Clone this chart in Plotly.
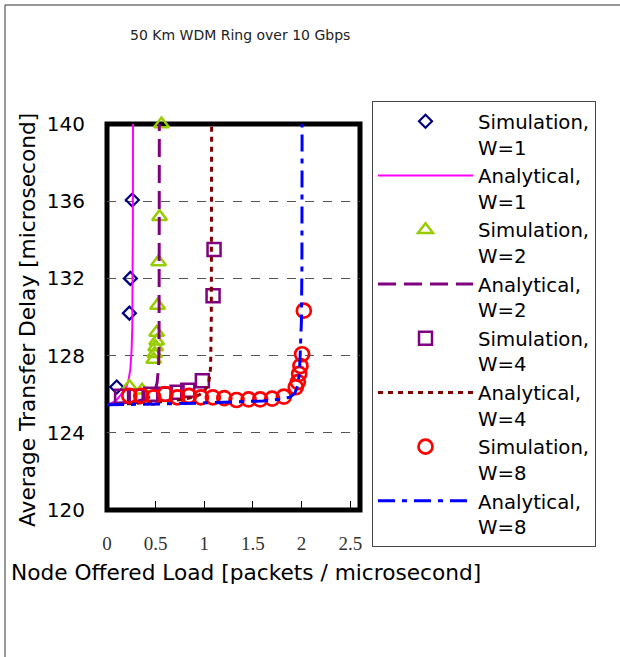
import plotly.graph_objects as go

# ---------------- data ----------------
sim_w1_x = [0.10, 0.23, 0.24, 0.26]
sim_w1_y = [126.37, 130.2, 132.0, 136.06]

ana_w1_x = [0.0, 0.05, 0.10, 0.13, 0.17, 0.20, 0.22, 0.24, 0.253, 0.260, 0.264, 0.266, 0.267]
ana_w1_y = [125.45, 125.55, 125.70, 125.87, 126.15, 126.40, 126.70, 127.30, 128.30, 129.50, 131.5, 135.0, 140.4]

sim_w2_x = [0.23, 0.36, 0.48, 0.49, 0.50, 0.51, 0.51, 0.52, 0.53, 0.54, 0.56]
sim_w2_y = [126.4, 126.2, 127.8, 128.1, 128.45, 128.75, 129.2, 130.6, 132.85, 135.2, 140.0]

ana_w2_x = [0.0, 0.1, 0.2, 0.3, 0.4, 0.45, 0.48, 0.50, 0.515, 0.528, 0.535, 0.537, 0.538]
ana_w2_y = [125.45, 125.50, 125.55, 125.62, 125.75, 125.90, 126.05, 126.30, 126.60, 127.30, 128.50, 132.0, 140.4]

sim_w4_x = [0.15, 0.30, 0.45, 0.60, 0.72, 0.83, 0.98, 1.09, 1.10]
sim_w4_y = [125.9, 125.9, 126.0, 126.0, 126.1, 126.2, 126.7, 131.1, 133.5]

ana_w4_x = [0.0, 0.2, 0.4, 0.6, 0.8, 0.9, 0.95, 1.00, 1.03, 1.05, 1.065, 1.072, 1.075]
ana_w4_y = [125.45, 125.50, 125.55, 125.62, 125.75, 125.87, 125.97, 126.15, 126.40, 126.75, 127.40, 130.0, 140.4]

sim_w8_x = [0.229, 0.352, 0.476, 0.599, 0.722, 0.842, 0.965, 1.088, 1.205, 1.331,
            1.455, 1.574, 1.697, 1.817, 1.940, 1.961, 1.975, 1.988, 2.005, 2.023]
sim_w8_y = [125.92, 125.92, 125.84, 126.01, 125.84, 125.91, 125.84, 125.84, 125.80, 125.70,
            125.73, 125.73, 125.77, 125.87, 126.36, 126.63, 127.05, 127.46, 128.07, 130.33]

ana_w8_x = [0.0, 0.4, 0.8, 1.2, 1.6, 1.8, 1.88, 1.93, 1.96, 1.978, 1.99, 1.998, 2.003, 2.005]
ana_w8_y = [125.45, 125.48, 125.52, 125.58, 125.65, 125.75, 125.85, 126.05, 126.45, 127.10, 128.30, 129.80, 132.5, 140.4]

x_ticks = [0, 0.5, 1, 1.5, 2, 2.5]
x_tick_text = ["0", "0.5", "1", "1.5", "2", "2.5"]
y_ticks = [120, 124, 128, 132, 136, 140]

title_text = "50 Km WDM Ring over 10 Gbps"
x_title = "Node Offered Load [packets / microsecond]"
y_title = "Average Transfer Delay [microsecond]"

# ---------------- figure ----------------
SANS = "DejaVu Sans"
fig = go.Figure()

def sim(x, y, name, symbol, color, size, lw):
    fig.add_trace(go.Scatter(
        x=x, y=y, name=name, mode="markers", cliponaxis=False,
        marker=dict(symbol=symbol, size=size, color=color,
                    line=dict(color=color, width=lw))))

def ana(x, y, name, color, dash, width):
    fig.add_trace(go.Scatter(
        x=x, y=y, name=name, mode="lines", cliponaxis=False,
        line=dict(color=color, dash=dash, width=width)))

sim(sim_w1_x, sim_w1_y, "Simulation,<br>W=1", "diamond-open", "#000080", 10, 2.2)
ana(ana_w1_x, ana_w1_y, "Analytical,<br>W=1", "#FF00FF", "solid", 2)
sim(sim_w2_x, sim_w2_y, "Simulation,<br>W=2", "triangle-up-open", "#99CC00", 13, 2.5)
ana(ana_w2_x, ana_w2_y, "Analytical,<br>W=2", "#800080", "18px,8px", 3)
sim(sim_w4_x, sim_w4_y, "Simulation,<br>W=4", "square-open", "#800080", 13, 2.5)
ana(ana_w4_x, ana_w4_y, "Analytical,<br>W=4", "#800000", "5px,5px", 3)
sim(sim_w8_x, sim_w8_y, "Simulation,<br>W=8", "circle-open", "#FF0000", 14, 2.7)
ana(ana_w8_x, ana_w8_y, "Analytical,<br>W=8", "#0000FF", "17px,7px,5px,7px", 3)

# plot-area geometry (pixels)
L, R, T, B = 107, 360, 124, 510
W, H = 620, 657
pw, ph = R - L, B - T

def px(xp):
    return (xp - L) / pw

def py(yp):
    return (B - yp) / ph

fig.update_layout(
    width=W, height=H,
    margin=dict(l=L, r=W - R, t=T, b=H - B, pad=0),
    paper_bgcolor="white", plot_bgcolor="white",
    showlegend=True,
    legend=dict(
        x=px(372), y=py(101), xanchor="left", yanchor="top",
        bordercolor="#444", borderwidth=1, bgcolor="white",
        font=dict(family=SANS, size=19.7, color="black"),
        itemwidth=95, tracegroupgap=0, valign="top",
        itemsizing="trace", maxheight=600,
    ),
    xaxis=dict(
        range=[0, 2.6], tickvals=x_ticks, ticktext=x_tick_text,
        showgrid=False, zeroline=False, showline=False,
        ticks="inside", ticklen=9, tickcolor="black", tickwidth=1,
        ticklabelstandoff=20,
        tickfont=dict(family="Liberation Serif", size=19, color="#333"),
    ),
    yaxis=dict(
        range=[120, 140], tickvals=y_ticks,
        showgrid=True, gridcolor="#555", griddash="dash", gridwidth=1,
        zeroline=False, showline=False,
        ticks="outside", ticklen=17, tickcolor="rgba(0,0,0,0)",
        tickfont=dict(family=SANS, size=20, color="black"),
    ),
    shapes=[
        # thick plot frame
        dict(type="rect", xref="paper", yref="paper", x0=0, x1=1, y0=0, y1=1,
             line=dict(color="black", width=5), layer="between"),
        # outer figure frame (left and top edges)
        dict(type="line", xref="paper", yref="paper", x0=px(5), x1=px(5),
             y0=py(5), y1=py(H + 5), line=dict(color="#333", width=1)),
        dict(type="line", xref="paper", yref="paper", x0=px(5), x1=px(W + 5),
             y0=py(5), y1=py(5), line=dict(color="#333", width=1)),
    ],
    annotations=[
        dict(text=title_text, xref="paper", yref="paper", x=px(128), y=py(35),
             xanchor="left", yanchor="middle", showarrow=False,
             font=dict(family=SANS, size=14, color="#222")),
        dict(text=x_title, xref="paper", yref="paper", x=px(9), y=py(572),
             xanchor="left", yanchor="middle", showarrow=False,
             font=dict(family=SANS, size=21.7, color="black")),
        dict(text=y_title, xref="paper", yref="paper", x=px(27), y=py(320),
             xanchor="center", yanchor="middle", showarrow=False, textangle=-90,
             font=dict(family=SANS, size=21.7, color="black")),
    ],
)

fig.write_html("out.html")
